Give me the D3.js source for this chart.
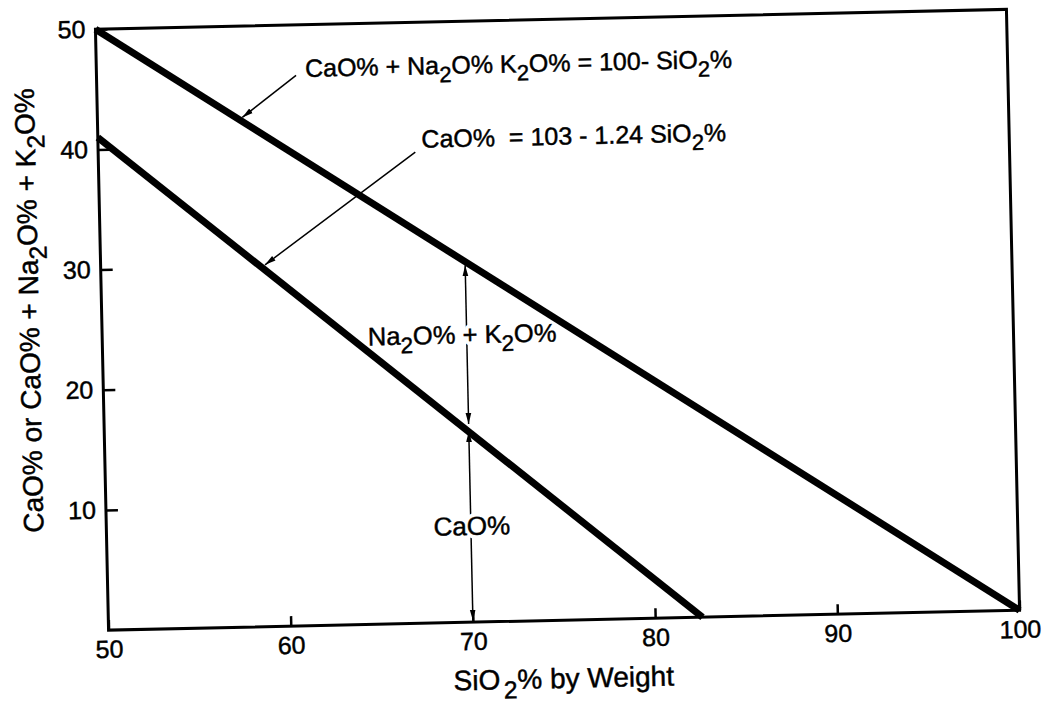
<!DOCTYPE html>
<html><head><meta charset="utf-8">
<script src="https://cdn.jsdelivr.net/npm/d3@7"></script>
<style>
body{margin:0;background:#fff}
svg text{font-family:"Liberation Sans",Arial,Helvetica,sans-serif;white-space:pre}
.fg{fill:#000;stroke:#000;stroke-width:0.45px}
</style>
</head><body>
<svg id="chart" width="1043" height="702"></svg>
<script>
// ---- data ----
const xTicks = [50, 60, 70, 80, 90, 100];
const yTicks = [10, 20, 30, 40, 50];
const totalSiO2 = [50, 100];          // CaO% + Na2O% + K2O% = 100 - SiO2%
const totalOxides = [50, 0];
const caoSiO2 = [50, 82.6];           // CaO% = 103 - 1.24 SiO2%
const caoValues = [41, 0];
const arrowSiO2 = 70;
const arrowLevels = [30, 16.2, 0];
const label1 = [["CaO% + Na"], ["2", 1], ["O% K"], ["2", 1], ["O% = 100- SiO"], ["2", 1], ["%"]];
const label2 = [["CaO%  = 103 - 1.24 SiO"], ["2", 1], ["%"]];
const label3 = [["Na"], ["2", 1], ["O% + K"], ["2", 1], ["O%"]];
const label4 = [["CaO%"]];
const xTitle = [["SiO"], ["2", 2], ["% by Weight"]];
const yTitle = [["CaO% or CaO% + Na"], ["2", 1], ["O% + K"], ["2", 1], ["O%"]];

// ---- layout ----
const svg = d3.select("#chart");
const g = svg.append("g").attr("transform", "rotate(-1.25,557.5,319.75)");
const x = d3.scaleLinear().domain([50, 100]).range([101.9, 1013.1]);
const y = d3.scaleLinear().domain([0, 50]).range([620.25, 19.25]);

const defs = svg.append("defs");
defs.append("marker").attr("id", "ah")
  .attr("viewBox", "0 -5 10 10").attr("refX", 10).attr("refY", 0)
  .attr("markerWidth", 11).attr("markerHeight", 11)
  .attr("markerUnits", "userSpaceOnUse").attr("orient", "auto-start-reverse")
  .append("path").attr("d", "M0,-2.6L10,0L0,2.6Z").attr("fill", "#000");

function rich(sel, segs, size) {
  sel.attr("font-size", size);
  let prevSub = false;
  segs.forEach(([t, sub]) => {
    const ts = sel.append("tspan").text(t);
    if (sub) {
      ts.attr("font-size", size * 0.88).attr("dy", size * 0.33);
      if (sub === 2) ts.attr("dx", size * 0.12);
      prevSub = true;
    }
    else if (prevSub) { ts.attr("dy", -size * 0.33); prevSub = false; }
  });
  return sel;
}

// axes
const gx = g.append("g").attr("transform", `translate(0,${y(0)})`)
  .call(d3.axisBottom(x).tickValues(xTicks).tickSize(-10).tickPadding(10));
gx.select(".domain").remove();
gx.selectAll(".tick line").attr("stroke-width", 2.5);
gx.selectAll(".tick text").attr("font-size", 25).attr("dy", "0.71em").attr("class", "fg");

const gy = g.append("g").attr("transform", `translate(${x(50)},0)`)
  .call(d3.axisLeft(y).tickValues(yTicks).tickSize(-12).tickPadding(10));
gy.select(".domain").remove();
gy.selectAll(".tick line").attr("stroke-width", 2.5);
gy.selectAll(".tick text").attr("font-size", 25).attr("class", "fg");

// frame
g.append("rect").attr("x", x(50)).attr("y", y(50))
  .attr("width", x(100) - x(50)).attr("height", y(0) - y(50))
  .attr("fill", "none").attr("stroke", "#000").attr("stroke-width", 3);

// vertical double arrows at SiO2 = 70
for (let i = 0; i < arrowLevels.length - 1; i++) {
  const y1 = y(arrowLevels[i]) + 3.5;
  const y2 = y(arrowLevels[i + 1]) - (i === arrowLevels.length - 2 ? 1.5 : 3.5);
  g.append("line").attr("x1", x(arrowSiO2)).attr("x2", x(arrowSiO2))
    .attr("y1", y1).attr("y2", y2)
    .attr("stroke", "#000").attr("stroke-width", 1.5)
    .attr("marker-start", "url(#ah)").attr("marker-end", "url(#ah)");
}

// leaders
function leader(p0, p1) {
  g.append("line").attr("x1", x(p0[0])).attr("y1", y(p0[1]))
    .attr("x2", x(p1[0])).attr("y2", y(p1[1]))
    .attr("stroke", "#000").attr("stroke-width", 1.5)
    .attr("marker-end", "url(#ah)");
}
leader([60.95, 45.8], [57.95, 42.4]);
leader([67.4, 39.2], [59.02, 30.1]);

// annotation texts (white halo underneath, then the text)
function note(segs, px, py, anchor, size) {
  const halo = g.append("text").attr("x", x(px)).attr("y", y(py)).attr("text-anchor", anchor)
    .attr("fill", "#fff").attr("stroke", "#fff").attr("stroke-width", 8).attr("stroke-linejoin", "round");
  rich(halo, segs, size);
  const t = g.append("text").attr("x", x(px)).attr("y", y(py)).attr("text-anchor", anchor)
    .attr("class", "fg");
  rich(t, segs, size);
}
note(label1, 61.45, 45.65, "start", 25);
note(label2, 67.75, 39.55, "start", 25);
note(label3, 69.75, 23.2, "middle", 25.5);
note(label4, 70.05, 7.25, "middle", 26);

// data lines
const line = d3.line().x(d => x(d[0])).y(d => y(d[1]));
g.append("path").datum(d3.zip(totalSiO2, totalOxides)).attr("d", line)
  .attr("fill", "none").attr("stroke", "#000").attr("stroke-width", 7);
g.append("path").datum(d3.zip(caoSiO2, caoValues)).attr("d", line)
  .attr("fill", "none").attr("stroke", "#000").attr("stroke-width", 7);

// axis titles
rich(g.append("text").attr("class", "fg").attr("x", 556).attr("y", 688).attr("text-anchor", "middle"), xTitle, 28);
rich(g.append("text").attr("class", "fg").attr("text-anchor", "middle")
  .attr("transform", "translate(39,299) rotate(-90)"), yTitle, 28);
</script>
</body></html>
